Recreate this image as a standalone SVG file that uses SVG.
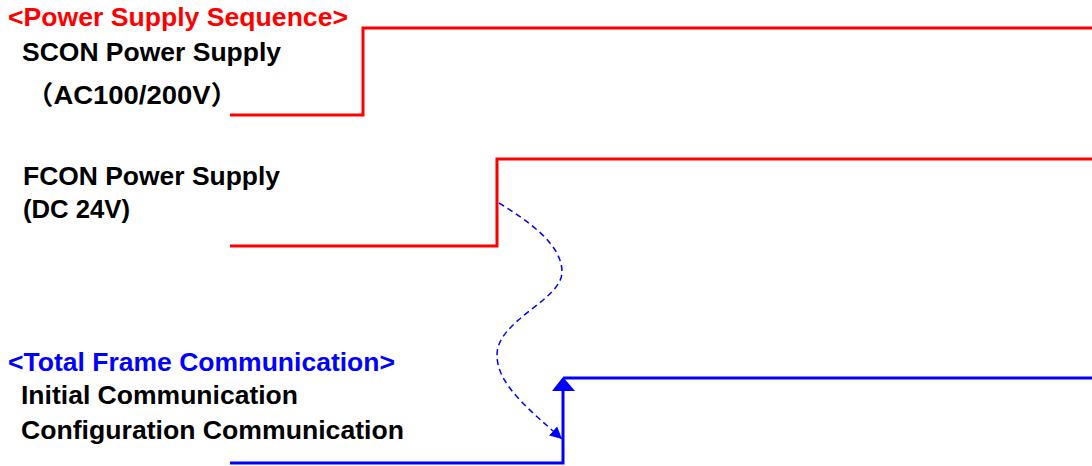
<svg xmlns="http://www.w3.org/2000/svg" width="1092" height="466" viewBox="0 0 1092 466">
<style>
text{font-family:"Liberation Sans",Arial,"Noto Sans CJK JP",sans-serif;font-weight:bold;font-size:26px;fill:#000}
.title{font-size:25px}
.red{fill:#ff0000}
.blue{fill:#0000ff}
.sig-r{fill:none;stroke:#ff0000;stroke-width:3}
.sig-b{fill:none;stroke:#0000ff;stroke-width:3}
.dash{fill:none;stroke:#0000ff;stroke-width:1.5;stroke-dasharray:6 4}
</style>
<defs>
<marker id="ah" viewBox="0 0 10 10" refX="10" refY="5" markerWidth="12" markerHeight="12" markerUnits="userSpaceOnUse" orient="auto"><path d="M0,0 L10,5 L0,10 z" fill="#0000ff"/></marker>
</defs>
<g id="labels">
<text class="title red" x="8" y="26" textLength="340" lengthAdjust="spacingAndGlyphs">&lt;Power Supply Sequence&gt;</text>
<text x="22" y="61" textLength="259" lengthAdjust="spacingAndGlyphs">SCON Power Supply</text>
<text x="26" y="104" textLength="212" lengthAdjust="spacingAndGlyphs">（AC100/200V）</text>
<text x="23" y="185" textLength="257" lengthAdjust="spacingAndGlyphs">FCON Power Supply</text>
<text x="23" y="218" textLength="107" lengthAdjust="spacingAndGlyphs">(DC 24V)</text>
<text class="title blue" x="8" y="371" textLength="387" lengthAdjust="spacingAndGlyphs">&lt;Total Frame Communication&gt;</text>
<text x="21" y="404" textLength="277" lengthAdjust="spacingAndGlyphs">Initial Communication</text>
<text x="21" y="439" textLength="383" lengthAdjust="spacingAndGlyphs">Configuration Communication</text>
</g>
<g id="scon"><polyline class="sig-r" points="230,115 363,115 363,28 1092,28"/></g>
<g id="fcon"><polyline class="sig-r" points="230,246 497,246 497,159 1092,159"/></g>
<g id="comm">
<polyline class="sig-b" points="230,463 563,463 563,386"/>
<line class="sig-b" x1="563" y1="378" x2="1092" y2="378"/>
<polygon points="563,377 552,391 575,391" fill="#0000ff"/>
</g>
<g id="connectors">
<path class="dash" d="M499,203 C530,222 562,245 562,272 C562,300 497,320 497,355 C497,385 530,410 562,439" marker-end="url(#ah)"/>
</g>
</svg>
